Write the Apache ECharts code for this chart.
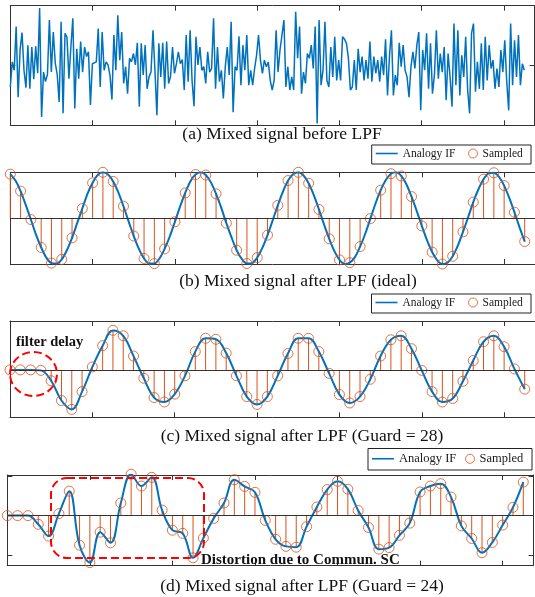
<!DOCTYPE html>
<html>
<head>
<meta charset="utf-8">
<script src="https://cdn.jsdelivr.net/npm/echarts/dist/echarts.min.js"></script>
<style>
html,body{margin:0;padding:0;background:#fff;}
#chart{width:535px;height:597px;}
</style>
</head>
<body>
<div id="chart"></div>
<script>
// Mixed signal before the low-pass filter (dense trace over samples 0..50)
const mixedSignal = [
  -0.36, 0.06, -0.08, 0.65, -0.53, 0.26, 0.55, -0.08, -0.37, 0.34,
  -0.39, 0.31, -0.23, 0.32, -0.13, 0.96, -0.86, -0.11, -0.27, -0.15,
  0.76, -0.11, 0.56, 0.04, -0.15, -0.61, 0.73, -0.80, 0.54, 0.47,
  -0.22, 0.31, 0.79, -0.72, 0.28, -0.22, 0.40, -0.11, 0.31, 0.15,
  0.23, -0.66, 0.03, 0.01, 0.06, 0.62, -0.36, 0.56, -0.08, 0.06,
  0.01, -0.16, -0.57, 0.51, -0.08, 0.84, 0.09, 0.56, -0.30, -0.02,
  -0.47, 0.12, 0.06, 0.20, 0.01, 0.38, -0.69, 0.37, -0.16, 0.34,
  -0.39, -0.19, -0.11, 0.59, -0.08, -0.83, 0.37, -0.19, 0.38, -0.39,
  0.40, -0.30, -0.18, 0.31, -0.13, 0.03, 0.23, 0.03, 0.10, -0.41,
  0.51, -0.27, 0.59, -0.25, -0.68, 0.48, 0.01, 0.31, -0.08, -0.02,
  -0.30, 0.23, -0.11, -0.05, 0.79, -0.39, 0.31, -0.27, -0.08, -0.55,
  -0.02, 0.31, -0.16, 0.73, -0.78, -0.02, -0.08, 0.49, -0.33, 0.34,
  -0.08, 0.51, -0.33, -0.08, -0.33, -0.05, 0.17, 0.51, 0.09, -0.13,
  0.09, -0.02, 0.06, -0.25, -0.41, -0.25, 0.59, -0.11, 0.26, 0.51,
  0.76, -0.36, -0.02, -0.41, -0.19, -0.41, 0.90, 0.12, 0.65, -0.47,
  -0.11, -0.30, 0.20, 0.12, 0.34, -0.05, 0.65, -0.97, 0.76, -0.33,
  -0.08, 0.73, -0.25, -0.36, 0.31, -0.19, 0.48, -0.25, 0.09, -0.25,
  0.48, 0.44, 0.37, 0.12, -0.41, -0.36, 0.09, -0.41, 0.28, -0.11,
  0.15, -0.25, 0.09, -0.22, 0.40, -0.27, 0.15, -0.13, 0.09, -0.27,
  0.15, -0.16, 0.44, -0.50, 0.15, 0.59, -0.50, -0.16, -0.33, 0.38,
  -0.02, 0.34, -0.08, -0.19, -0.53, -0.02, 0.23, -0.05, 0.34, 0.56,
  -0.75, 0.26, -0.08, 0.54, -0.39, 0.37, -0.47, -0.16, 0.59, -0.22,
  0.20, -0.11, 0.31, -0.58, 0.20, -0.19, -0.69, 0.70, -0.33, 0.59,
  -0.50, 0.17, -0.19, 0.48, -0.41, -0.80, 0.54, 0.70, -0.44, 0.06,
  -0.39, 0.37, -0.41, 0.48, -0.25, 0.34, -0.05, 0.09, -0.39, -0.05,
  -0.36, 0.26, -0.11, 0.42, -0.27, -0.75, 0.70, -0.33, 0.42, -0.19,
  0.51, -0.33, 0.03, -0.08
];

// Ideal LPF output: sampled values at indices 0..50
const idealSamples = [
  0.96, 0.59, -0.03, -0.64, -0.98, -0.90, -0.43, 0.21, 0.77, 1.00,
  0.80, 0.26, -0.39, -0.88, -0.99, -0.67, -0.08, 0.55, 0.95, 0.94,
  0.53, -0.11, -0.70, -0.99, -0.86, -0.37, 0.28, 0.82, 1.00, 0.76,
  0.19, -0.45, -0.91, -0.97, -0.62, -0.01, 0.61, 0.97, 0.92, 0.47,
  -0.17, -0.74, -1.00, -0.83, -0.30, 0.35, 0.85, 0.99, 0.71, 0.13,
  -0.51
];
// Ideal analog IF between the samples (values at index + 0.5)
const idealHalfSteps = [
  0.82, 0.29, -0.36, -0.86, -0.99, -0.70, -0.11, 0.53, 0.94, 0.95,
  0.56, -0.07, -0.67, -0.99, -0.88, -0.40, 0.25, 0.80, 1.00, 0.78,
  0.23, -0.42, -0.89, -0.98, -0.65, -0.05, 0.58, 0.96, 0.93, 0.50,
  -0.14, -0.72, -1.00, -0.85, -0.34, 0.32, 0.83, 1.00, 0.74, 0.16,
  -0.48, -0.92, -0.97, -0.60, 0.02, 0.63, 0.98, 0.90, 0.44, -0.20
];
const guard28Samples = [
  0.00, 0.00, 0.00, -0.01, -0.22, -0.62, -0.80, -0.44, 0.06, 0.49,
  0.80, 0.69, 0.28, -0.17, -0.56, -0.65, -0.49, -0.12, 0.37, 0.64,
  0.62, 0.34, -0.12, -0.54, -0.70, -0.54, -0.12, 0.33, 0.64, 0.64,
  0.37, -0.07, -0.50, -0.67, -0.54, -0.19, 0.28, 0.61, 0.69, 0.43,
  -0.01, -0.44, -0.65, -0.58, -0.23, 0.19, 0.57, 0.69, 0.47, 0.02,
  -0.39
];
const guard24Samples = [
  0.00, 0.00, 0.00, -0.22, -0.52, 0.05, 0.62, -0.75, -1.19, -0.42,
  -0.69, 0.32, 1.05, 0.75, 0.97, 0.14, -0.37, -0.45, -1.07, -0.57,
  -0.07, 0.32, 0.91, 0.74, 0.59, -0.12, -0.60, -0.78, -0.80, -0.28,
  0.22, 0.66, 0.87, 0.67, 0.13, -0.30, -0.85, -0.81, -0.50, -0.19,
  0.60, 0.75, 0.81, 0.47, -0.26, -0.58, -0.94, -0.68, -0.24, 0.21,
  0.85
];

const xTickStep = 8;
const xMax = 51;
const captions = [
  '(a) Mixed signal before LPF',
  '(b) Mixed signal after LPF (ideal)',
  '(c) Mixed signal after LPF (Guard = 28)',
  '(d) Mixed signal after LPF (Guard = 24)'
];
const legendNames = ['Analogy IF', 'Sampled'];

const BLUE = '#0072BD';
const ORANGE = '#D95319';
const FRAME = '#333333';
const SERIF = '"Liberation Serif", "Times New Roman", serif';

const grids = [
  { left: 10.3, top: 5.7, width: 524.3, height: 119.6 },
  { left: 10.3, top: 172.3, width: 524.8, height: 91.7 },
  { left: 10, top: 321, width: 532, height: 96.3 },
  { left: 7.3, top: 475, width: 526.3, height: 90.7 }
];
const yRanges = [[-1, 1], [-1, 1], [-0.96, 0.99], [-1.27, 1.03]];

const xAxes = [], yAxes = [];
grids.forEach((g, gi) => {
  ['bottom', 'top'].forEach(pos => xAxes.push({
    gridIndex: gi, type: 'value', min: 0, max: xMax, interval: xTickStep, position: pos,
    axisLine: { show: true, onZero: false, lineStyle: { color: FRAME, width: 1 } },
    axisTick: { show: true, inside: true, length: 5, lineStyle: { color: FRAME, width: 1 } },
    axisLabel: { show: false }, splitLine: { show: false }
  }));
  ['left', 'right'].forEach(pos => yAxes.push({
    gridIndex: gi, type: 'value', min: yRanges[gi][0], max: yRanges[gi][1], position: pos,
    axisLine: { show: true, onZero: false, lineStyle: { color: FRAME, width: 1 } },
    axisTick: { show: true, inside: true, length: 5, customValues: [-1, 0, 1], lineStyle: { color: FRAME, width: 1 } },
    axisLabel: { show: false }, splitLine: { show: false }
  }));
});

const step = 50 / (mixedSignal.length - 1);
const series = [{
  type: 'line', xAxisIndex: 0, yAxisIndex: 0, name: 'mixed',
  data: mixedSignal.map((v, i) => [i * step, v]),
  symbol: 'none', lineStyle: { color: BLUE, width: 1.5 }, silent: true
}];

// ideal analog curve: samples interleaved with the half-step values
const idealAnalog = [];
idealSamples.forEach((v, i) => {
  idealAnalog.push([i, v]);
  if (i < idealHalfSteps.length) idealAnalog.push([i + 0.5, idealHalfSteps[i]]);
});

[idealSamples, guard28Samples, guard24Samples].forEach((arr, k) => {
  const gi = k + 1;
  const pts = arr.map((v, i) => [i, v]);
  series.push({
    type: 'bar', name: 'stems', xAxisIndex: gi * 2, yAxisIndex: gi * 2,
    data: pts, barWidth: 1, itemStyle: { color: ORANGE }, silent: true, z: 1,
    markLine: {
      silent: true, symbol: 'none', label: { show: false }, animation: false,
      lineStyle: { color: FRAME, width: 1, type: 'solid' }, data: [{ yAxis: 0 }]
    }
  });
  series.push({
    type: 'line', name: legendNames[0], xAxisIndex: gi * 2, yAxisIndex: gi * 2,
    data: k === 0 ? idealAnalog : pts, smooth: k === 0 ? 0.3 : 0.4, symbol: 'none',
    lineStyle: { color: BLUE, width: 2 }, itemStyle: { color: BLUE }, silent: true, z: 2
  });
  series.push({
    type: 'scatter', name: legendNames[1], xAxisIndex: gi * 2, yAxisIndex: gi * 2,
    data: pts, symbol: 'circle', symbolSize: 10, clip: false,
    itemStyle: { color: 'rgba(0,0,0,0)', borderColor: ORANGE, borderWidth: 1 },
    silent: true, z: 3
  });
});

// legend boxes: [boxX, boxY, boxW, boxH, fontSize]
const legendBoxes = [
  [371.7, 145, 159.3, 19, 11.5],
  [371.5, 294, 159.5, 19, 11.5],
  [368, 448.5, 164, 21.5, 12.5]
];
const legends = [];
const graphics = [];
legendBoxes.forEach(([bx, by, bw, bh, fs]) => {
  const cy = by + bh / 2;
  graphics.push({
    type: 'rect', z: 50, shape: { x: bx, y: by, width: bw, height: bh },
    style: { fill: '#fff', stroke: '#222', lineWidth: 1 }
  });
  legends.push({
    data: [{ name: legendNames[0], icon: 'rect', itemStyle: { color: BLUE } }],
    left: bx + 4, top: cy - 7, height: 14, padding: 0,
    itemWidth: 22, itemHeight: 1.6, selectedMode: false, z: 60,
    textStyle: { fontFamily: SERIF, fontSize: fs, color: '#1a1a1a' }
  });
  legends.push({
    data: [{ name: legendNames[1], icon: 'circle',
      itemStyle: { color: 'rgba(0,0,0,0)', borderColor: ORANGE, borderWidth: 1 } }],
    left: bx + bw - 63 - (fs - 11.5) * 4, top: cy - 7, height: 14, padding: 0,
    itemWidth: 9, itemHeight: 9, selectedMode: false, z: 60,
    textStyle: { fontFamily: SERIF, fontSize: fs, color: '#1a1a1a' }
  });
});

const captionPos = [[282, 134], [298, 281], [302, 436], [302, 586]];
captions.forEach((t, i) => graphics.push({
  type: 'text', z: 60, x: captionPos[i][0], y: captionPos[i][1],
  style: { text: t, font: '17.5px ' + SERIF, fill: '#111', textAlign: 'center', textVerticalAlign: 'middle' }
}));

// annotations
graphics.push({
  type: 'text', z: 60, x: 16, y: 342,
  style: { text: 'filter delay', font: 'bold 14.5px ' + SERIF, fill: '#111', textVerticalAlign: 'middle' }
});
graphics.push({
  type: 'ellipse', z: 60, shape: { cx: 33.5, cy: 374, rx: 23.5, ry: 22 },
  style: { fill: 'none', stroke: '#FF0000', lineWidth: 2, lineDash: [8, 4] }
});
graphics.push({
  type: 'rect', z: 60, shape: { x: 51, y: 478, width: 153, height: 80, r: 16 },
  style: { fill: 'none', stroke: '#FF0000', lineWidth: 2, lineDash: [8, 4] }
});
graphics.push({
  type: 'text', z: 60, x: 201, y: 560,
  style: { text: 'Distortion due to Commun. SC', font: 'bold 15px ' + SERIF, fill: '#111', textVerticalAlign: 'middle' }
});

const chart = echarts.init(document.getElementById('chart'), null, { renderer: 'canvas' });
chart.setOption({
  animation: false,
  backgroundColor: '#fff',
  grid: grids,
  xAxis: xAxes,
  yAxis: yAxes,
  legend: legends,
  series: series,
  graphic: graphics
});
</script>
</body>
</html>
